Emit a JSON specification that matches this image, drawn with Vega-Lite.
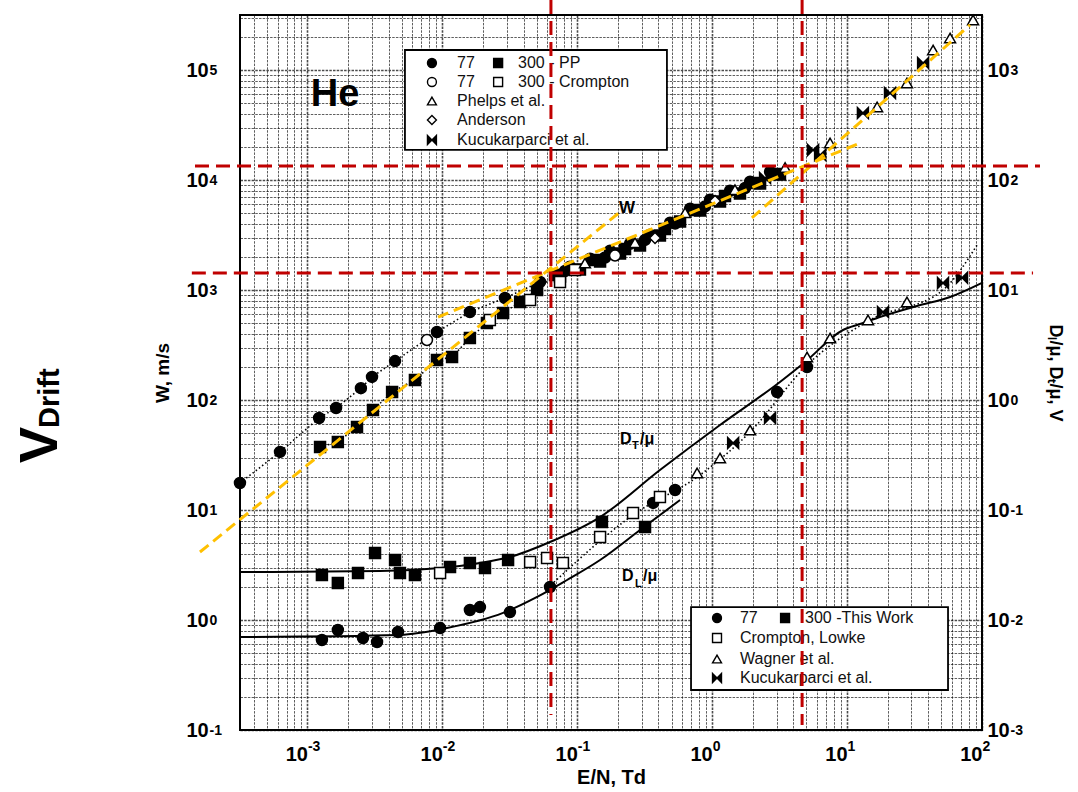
{
  "$schema": "https://vega.github.io/schema/vega-lite/v6.json",
  "width": 742,
  "height": 715,
  "autosize": {"type": "none"},
  "padding": {"left": 240, "top": 15, "right": 96, "bottom": 62},
  "background": "white",
  "config": {
    "view": {"stroke": "black", "strokeWidth": 2},
    "font": "Liberation Sans",
    "axis": {"domain": false, "ticks": false, "labelFont": "Liberation Sans", "labelFontWeight": "bold", "labelFontSize": 20, "labelColor": "black", "titleFont": "Liberation Sans", "titleFontWeight": "bold", "titleColor": "black", "labelOverlap": false, "labelBound": false, "labelFlush": false}
  },
  "datasets": {
    "wpts": [
      {"E": 0.000316, "W": 17.6, "s": "W77"}, {"E": 0.000626, "W": 33.7, "s": "W77"}, {"E": 0.00122, "W": 68.6, "s": "W77"}, {"E": 0.00163, "W": 84.6, "s": "W77"}, {"E": 0.00249, "W": 128, "s": "W77"}, {"E": 0.00301, "W": 162, "s": "W77"}, {"E": 0.00446, "W": 226, "s": "W77"}, {"E": 0.00912, "W": 415, "s": "W77"}, {"E": 0.016, "W": 631, "s": "W77"}, {"E": 0.0291, "W": 846, "s": "W77"}, {"E": 0.053, "W": 1183, "s": "W77"}, {"E": 0.0811, "W": 1489, "s": "W77"}, {"E": 0.1607, "W": 1975, "s": "W77"}, {"E": 0.318, "W": 2850, "s": "W77"}, {"E": 0.531, "W": 4025, "s": "W77"}, {"E": 0.885, "W": 5750, "s": "W77"}, {"E": 1.754, "W": 8457, "s": "W77"},
      {"E": 0.0883, "W": 1626, "s": "W77"}, {"E": 0.1245, "W": 1923, "s": "W77"}, {"E": 0.175, "W": 2274, "s": "W77"}, {"E": 0.246, "W": 2633, "s": "W77"}, {"E": 0.346, "W": 3178, "s": "W77"}, {"E": 0.4875, "W": 4086, "s": "W77"}, {"E": 0.6855, "W": 5475, "s": "W77"}, {"E": 0.964, "W": 6613, "s": "W77"}, {"E": 1.356, "W": 7986, "s": "W77"}, {"E": 1.91, "W": 9641, "s": "W77"}, {"E": 2.685, "W": 11880, "s": "W77"},
      {"E": 0.00124, "W": 37.4, "s": "W300"}, {"E": 0.00168, "W": 41.5, "s": "W300"}, {"E": 0.00233, "W": 56.8, "s": "W300"}, {"E": 0.00306, "W": 81.1, "s": "W300"}, {"E": 0.00424, "W": 118, "s": "W300"}, {"E": 0.00626, "W": 152, "s": "W300"}, {"E": 0.00912, "W": 231, "s": "W300"}, {"E": 0.0118, "W": 246, "s": "W300"}, {"E": 0.016, "W": 366, "s": "W300"}, {"E": 0.0214, "W": 501, "s": "W300"}, {"E": 0.0282, "W": 618, "s": "W300"}, {"E": 0.0377, "W": 778, "s": "W300"}, {"E": 0.0504, "W": 1000, "s": "W300"}, {"E": 0.0684, "W": 1368, "s": "W300"}, {"E": 0.1355, "W": 1874, "s": "W300"}, {"E": 0.226, "W": 2360, "s": "W300"}, {"E": 0.447, "W": 3587, "s": "W300"}, {"E": 0.746, "W": 5337, "s": "W300"}, {"E": 1.245, "W": 7161, "s": "W300"}, {"E": 2.08, "W": 9391, "s": "W300"}, {"E": 2.924, "W": 11350, "s": "W300"},
      {"E": 0.0745, "W": 1327, "s": "W300"}, {"E": 0.1047, "W": 1536, "s": "W300"}, {"E": 0.1476, "W": 1817, "s": "W300"}, {"E": 0.2075, "W": 2149, "s": "W300"}, {"E": 0.2917, "W": 2540, "s": "W300"}, {"E": 0.41, "W": 3129, "s": "W300"}, {"E": 0.578, "W": 4199, "s": "W300"}, {"E": 0.813, "W": 5288, "s": "W300"}, {"E": 1.143, "W": 6376, "s": "W300"}, {"E": 1.607, "W": 7542, "s": "W300"}, {"E": 2.265, "W": 9300, "s": "W300"}, {"E": 3.18, "W": 11225, "s": "W300"},
      {"E": 0.00769, "W": 351, "s": "W77C"}, {"E": 0.1905, "W": 2060, "s": "W77C"},
      {"E": 0.0225, "W": 534, "s": "W300C"}, {"E": 0.0447, "W": 811, "s": "W300C"}, {"E": 0.0745, "W": 1180, "s": "W300C"}, {"E": 0.0962, "W": 1520, "s": "W300C"},
      {"E": 0.114, "W": 1755, "s": "Phelps"}, {"E": 0.268, "W": 2690, "s": "Phelps"}, {"E": 0.63, "W": 5050, "s": "Phelps"}, {"E": 1.476, "W": 8170, "s": "Phelps"}, {"E": 3.47, "W": 12970, "s": "Phelps"}, {"E": 7.48, "W": 21700, "s": "Phelps"}, {"E": 16.7, "W": 46100, "s": "Phelps"}, {"E": 27.8, "W": 76200, "s": "Phelps"}, {"E": 43.4, "W": 152000, "s": "Phelps"}, {"E": 58, "W": 195400, "s": "Phelps"}, {"E": 85.9, "W": 285000, "s": "Phelps"},
      {"E": 0.377, "W": 2970, "s": "Anderson"}, {"E": 1.05, "W": 6442, "s": "Anderson"},
      {"E": 2.466, "W": 10430, "s": "Kuc"}, {"E": 5.6, "W": 18750, "s": "Kuc"}, {"E": 6.31, "W": 16870, "s": "Kuc"}, {"E": 13.1, "W": 40650, "s": "Kuc"}, {"E": 20.8, "W": 61800, "s": "Kuc"}, {"E": 36.6, "W": 115800, "s": "Kuc"}
    ],
    "dpts": [
      {"E": 0.00128, "V": 0.00658, "s": "DL77"}, {"E": 0.00168, "V": 0.00811, "s": "DL77"}, {"E": 0.00258, "V": 0.00686, "s": "DL77"}, {"E": 0.00328, "V": 0.00631, "s": "DL77"}, {"E": 0.00469, "V": 0.00778, "s": "DL77"}, {"E": 0.00962, "V": 0.00845, "s": "DL77"}, {"E": 0.016, "V": 0.01233, "s": "DL77"}, {"E": 0.019, "V": 0.0131, "s": "DL77"}, {"E": 0.0317, "V": 0.0118, "s": "DL77"}, {"E": 0.0628, "V": 0.01995, "s": "DL77"}, {"E": 0.365, "V": 0.116, "s": "DL77"}, {"E": 0.531, "V": 0.152, "s": "DL77"}, {"E": 3.03, "V": 1.18, "s": "DL77"}, {"E": 5.05, "V": 1.995, "s": "DL77"},
      {"E": 0.00128, "V": 0.0257, "s": "DT300"}, {"E": 0.00168, "V": 0.0217, "s": "DT300"}, {"E": 0.00237, "V": 0.0267, "s": "DT300"}, {"E": 0.00317, "V": 0.0407, "s": "DT300"}, {"E": 0.00446, "V": 0.0351, "s": "DT300"}, {"E": 0.00485, "V": 0.0267, "s": "DT300"}, {"E": 0.00626, "V": 0.0257, "s": "DT300"}, {"E": 0.0114, "V": 0.0303, "s": "DT300"}, {"E": 0.016, "V": 0.033, "s": "DT300"}, {"E": 0.0207, "V": 0.0297, "s": "DT300"}, {"E": 0.0307, "V": 0.0351, "s": "DT300"}, {"E": 0.1524, "V": 0.0778, "s": "DT300"}, {"E": 0.318, "V": 0.07, "s": "DT300"},
      {"E": 0.00962, "V": 0.0267, "s": "CL"}, {"E": 0.0447, "V": 0.0337, "s": "CL"}, {"E": 0.0597, "V": 0.0366, "s": "CL"}, {"E": 0.0783, "V": 0.033, "s": "CL"}, {"E": 0.1476, "V": 0.0568, "s": "CL"}, {"E": 0.259, "V": 0.094, "s": "CL"}, {"E": 0.41, "V": 0.131, "s": "CL"},
      {"E": 0.773, "V": 0.217, "s": "Wagner"}, {"E": 1.143, "V": 0.297, "s": "Wagner"}, {"E": 1.91, "V": 0.533, "s": "Wagner"}, {"E": 5.05, "V": 2.46, "s": "Wagner"}, {"E": 7.48, "V": 3.66, "s": "Wagner"}, {"E": 14.3, "V": 5.34, "s": "Wagner"}, {"E": 27.8, "V": 7.78, "s": "Wagner"},
      {"E": 1.43, "V": 0.406, "s": "KucL"}, {"E": 2.685, "V": 0.686, "s": "KucL"}, {"E": 18.46, "V": 6.31, "s": "KucL"}, {"E": 51.4, "V": 11.6, "s": "KucL"}, {"E": 71.1, "V": 12.9, "s": "KucL"}
    ],
    "theory": [
      {"E": 0.000316, "V": 0.0273, "c": "DT"}, {"E": 0.00345, "V": 0.0279, "c": "DT"}, {"E": 0.00962, "V": 0.0297, "c": "DT"}, {"E": 0.019, "V": 0.033, "c": "DT"}, {"E": 0.0317, "V": 0.0374, "c": "DT"}, {"E": 0.0628, "V": 0.0512, "c": "DT"}, {"E": 0.1476, "V": 0.0863, "c": "DT"}, {"E": 0.41, "V": 0.231, "c": "DT"}, {"E": 1.143, "V": 0.593, "c": "DT"}, {"E": 3.18, "V": 1.458, "c": "DT"}, {"E": 4.88, "V": 2.215, "c": "DT"}, {"E": 9.33, "V": 4.33, "c": "DT"}, {"E": 12.47, "V": 4.91, "c": "DT"}, {"E": 18.46, "V": 5.8, "c": "DT"}, {"E": 33, "V": 7.16, "c": "DT"}, {"E": 58, "V": 8.63, "c": "DT"}, {"E": 100, "V": 11.6, "c": "DT"},
      {"E": 0.000316, "V": 0.007, "c": "DL"}, {"E": 0.00485, "V": 0.00731, "c": "DL"}, {"E": 0.0108, "V": 0.00845, "c": "DL"}, {"E": 0.0282, "V": 0.0116, "c": "DL"}, {"E": 0.0504, "V": 0.0162, "c": "DL"}, {"E": 0.084, "V": 0.0231, "c": "DL"}, {"E": 0.1476, "V": 0.0351, "c": "DL"}, {"E": 0.2917, "V": 0.0658, "c": "DL"}, {"E": 0.578, "V": 0.1233, "c": "DL"}
    ],
    "dldot": [
      {"E": 0.0638, "V": 0.0208}, {"E": 0.259, "V": 0.0901}, {"E": 0.813, "V": 0.208}, {"E": 1.91, "V": 0.512}, {"E": 5.05, "V": 2.08}, {"E": 14.8, "V": 5.34}, {"E": 51.4, "V": 10}, {"E": 91.9, "V": 25.6}
    ],
    "yellow": [
      {"E": 0.0001597, "W": 4.15, "g": "A"}, {"E": 0.2075, "W": 5117, "g": "A"},
      {"E": 0.00929, "W": 568, "g": "B"}, {"E": 12.47, "W": 21700, "g": "B"},
      {"E": 1.97, "W": 4515, "g": "C"}, {"E": 81.5, "W": 256600, "g": "C"}
    ],
    "redh": [{"E": 0.0001467, "E2": 269, "W": 13400}, {"E": 0.000139, "E2": 239, "W": 1427}],
    "redv": [{"E": 0.0638, "W": 432000, "W2": 0.137}, {"E": 4.64, "W": 432000, "W2": 0.111}],
    "ubox": [{"E": 0.00528, "E2": 0.462, "W": 152000, "W2": 18750}],
    "usym": [
      {"E": 0.00837, "W": 115800, "s": "W77"}, {"E": 0.0259, "W": 115800, "s": "W300"}, {"E": 0.00837, "W": 77800, "s": "W77C"}, {"E": 0.0259, "W": 77800, "s": "W300C"}, {"E": 0.00837, "W": 52250, "s": "Phelps"}, {"E": 0.00837, "W": 35100, "s": "Anderson"}, {"E": 0.00837, "W": 23100, "s": "Kuc"}
    ],
    "utext": [
      {"E": 0.01285, "W": 115800, "t": "77"}, {"E": 0.0364, "W": 115800, "t": "300 - PP"}, {"E": 0.01285, "W": 77800, "t": "77"}, {"E": 0.0364, "W": 77800, "t": "300 - Crompton"}, {"E": 0.01285, "W": 52250, "t": "Phelps et al."}, {"E": 0.01285, "W": 35100, "t": "Anderson"}, {"E": 0.01285, "W": 23100, "t": "Kucukarparci et al."}
    ],
    "lbox": [{"E": 0.697, "E2": 56, "V": 0.0131, "V2": 0.00231}],
    "lsym": [
      {"E": 1.086, "V": 0.01043, "s": "DL77"}, {"E": 3.47, "V": 0.01043, "s": "DT300"}, {"E": 1.086, "V": 0.00686, "s": "CL"}, {"E": 1.086, "V": 0.00442, "s": "Wagner"}, {"E": 1.086, "V": 0.00297, "s": "KucL"}
    ],
    "ltext": [
      {"E": 1.607, "V": 0.01043, "t": "77"}, {"E": 4.88, "V": 0.01043, "t": "300 -This Work"}, {"E": 1.607, "V": 0.00686, "t": "Crompton, Lowke"}, {"E": 1.607, "V": 0.00442, "t": "Wagner et al."}, {"E": 1.607, "V": 0.00297, "t": "Kucukarparci et al."}
    ],
    "dlab": [
      {"E": 0.2075, "V": 0.4416, "t": "D"}, {"E": 0.2917, "V": 0.4416, "t": "/μ"},
      {"E": 0.2148, "V": 0.0251, "t": "D"}, {"E": 0.307, "V": 0.0251, "t": "/μ"}
    ],
    "dsub": [{"E": 0.2547, "V": 0.382, "t": "T"}, {"E": 0.268, "V": 0.0212, "t": "L"}]
  },
  "layer": [
    {
      "encoding": {
        "x": {
          "field": "E", "type": "quantitative",
          "scale": {"type": "log", "domain": [0.00031623, 100], "nice": false},
          "axis": {
            "orient": "bottom",
            "values": [0.0004, 0.0005, 0.0006, 0.0007, 0.0008, 0.0009, 0.001, 0.002, 0.003, 0.004, 0.005, 0.006, 0.007, 0.008, 0.009, 0.01, 0.02, 0.03, 0.04, 0.05, 0.06, 0.07, 0.08, 0.09, 0.1, 0.2, 0.3, 0.4, 0.5, 0.6, 0.7, 0.8, 0.9, 1, 2, 3, 4, 5, 6, 7, 8, 9, 10, 20, 30, 40, 50, 60, 70, 80, 90, 100],
            "labelExpr": "indexof([0.001,0.01,0.1,1,10,100], datum.value) >= 0 ? '10' : ''",
            "labelAlign": "right", "labelDx": 10, "labelPadding": 14,
            "grid": true, "gridColor": "black", "gridOpacity": 0.7, "gridDash": [2.5, 1.2],
            "gridWidth": {"condition": {"test": "indexof([0.001,0.01,0.1,1,10,100], datum.value) >= 0", "value": 1.6}, "value": 0.9},
            "title": "E/N,  Td", "titleFontSize": 20, "titlePadding": 3
          }
        },
        "y": {
          "field": "W", "type": "quantitative",
          "scale": {"type": "log", "domain": [0.1, 316227.77], "nice": false},
          "axis": {
            "orient": "left",
            "values": [0.1, 0.2, 0.3, 0.4, 0.5, 0.6, 0.7, 0.8, 0.9, 1, 2, 3, 4, 5, 6, 7, 8, 9, 10, 20, 30, 40, 50, 60, 70, 80, 90, 100, 200, 300, 400, 500, 600, 700, 800, 900, 1000, 2000, 3000, 4000, 5000, 6000, 7000, 8000, 9000, 10000, 20000, 30000, 40000, 50000, 60000, 70000, 80000, 90000, 100000, 200000, 300000],
            "labelExpr": "indexof([0.1,1,10,100,1000,10000,100000], datum.value) >= 0 ? '10' : ''",
            "labelAlign": "left", "labelPadding": 54, "labelBaseline": "middle",
            "grid": true, "gridColor": "black", "gridOpacity": 0.7, "gridDash": [2.5, 1.2],
            "gridWidth": {"condition": {"test": "indexof([0.1,1,10,100,1000,10000,100000], datum.value) >= 0", "value": 1.6}, "value": 0.9},
            "title": "W, m/s", "titleFontSize": 19, "titlePadding": 14
          }
        }
      },
      "layer": [
        {
          "data": {"name": "wpts"},
          "transform": [{"filter": "(datum.s === 'W77' || datum.s === 'W300') && datum.E < 0.07"}],
          "mark": {"type": "line", "strokeDash": [1.5, 2.5], "strokeWidth": 1.6, "color": "black"},
          "encoding": {"detail": {"field": "s"}}
        },
        {
          "data": {"name": "wpts"},
          "mark": {"type": "point", "filled": true, "stroke": "black", "strokeWidth": 1.5, "size": 120, "opacity": 1},
          "encoding": {
            "shape": {"field": "s", "type": "nominal", "legend": null, "scale": {"domain": ["W77", "W300", "W77C", "W300C", "Phelps", "Anderson", "Kuc", "DL77", "DT300", "CL", "Wagner", "KucL"], "range": ["circle", "square", "circle", "square", "triangle-up", "diamond", "M-1,-1L0,0L-1,1ZM1,-1L0,0L1,1Z", "circle", "square", "square", "triangle-up", "M-1,-1L0,0L-1,1ZM1,-1L0,0L1,1Z"]}},
            "fill": {"field": "s", "type": "nominal", "legend": null, "scale": {"domain": ["W77", "W300", "W77C", "W300C", "Phelps", "Anderson", "Kuc", "DL77", "DT300", "CL", "Wagner", "KucL"], "range": ["black", "black", "white", "white", "white", "white", "black", "black", "black", "white", "white", "black"]}}
          }
        },
        {
          "data": {"name": "ubox"},
          "mark": {"type": "rect", "fill": "white", "stroke": "black", "strokeWidth": 1.8},
          "encoding": {"x2": {"field": "E2"}, "y2": {"field": "W2"}}
        },
        {
          "data": {"name": "usym"},
          "mark": {"type": "point", "filled": true, "stroke": "black", "strokeWidth": 1.4, "size": 80, "opacity": 1},
          "encoding": {
            "shape": {"field": "s", "type": "nominal", "legend": null},
            "fill": {"field": "s", "type": "nominal", "legend": null}
          }
        },
        {
          "data": {"name": "utext"},
          "mark": {"type": "text", "align": "left", "baseline": "middle", "fontSize": 16, "color": "#111"},
          "encoding": {"text": {"field": "t"}}
        },
        {
          "data": {"values": [{"E": 0.0016, "W": 59300, "t": "He"}]},
          "mark": {"type": "text", "align": "center", "baseline": "middle", "fontSize": 38, "fontWeight": "bold", "color": "black"},
          "encoding": {"text": {"field": "t"}}
        },
        {
          "data": {"values": [{"E": 0.234, "W": 5560, "t": "W"}]},
          "mark": {"type": "text", "align": "center", "baseline": "middle", "fontSize": 17, "fontWeight": "bold", "color": "black"},
          "encoding": {"text": {"field": "t"}}
        },
        {
          "data": {"values": [{"E": 0.0000139, "W": 39, "t": "V"}]},
          "mark": {"type": "text", "angle": 270, "align": "center", "baseline": "alphabetic", "fontSize": 54, "fontWeight": "bold", "color": "black"},
          "encoding": {"text": {"field": "t"}}
        },
        {
          "data": {"values": [{"E": 0.0000145, "W": 104, "t": "Drift"}]},
          "mark": {"type": "text", "angle": 270, "align": "center", "baseline": "alphabetic", "fontSize": 29, "fontWeight": "bold", "color": "black"},
          "encoding": {"text": {"field": "t"}}
        }
      ]
    },
    {
      "encoding": {
        "x": {
          "field": "E", "type": "quantitative",
          "scale": {"type": "log", "domain": [0.00031623, 100], "nice": false},
          "axis": {
            "orient": "bottom",
            "values": [0.001, 0.01, 0.1, 1, 10, 100],
            "labelExpr": "datum.value===0.001?'-3':datum.value===0.01?'-2':datum.value===0.1?'-1':datum.value===1?'0':datum.value===10?'1':'2'",
            "labelAlign": "left", "labelDx": 11, "labelPadding": 9, "labelFontSize": 14,
            "grid": false, "title": null
          }
        },
        "y": {
          "field": "V", "type": "quantitative",
          "scale": {"type": "log", "domain": [0.001, 3162.2777], "nice": false},
          "axis": {
            "orient": "right",
            "values": [0.001, 0.01, 0.1, 1, 10, 100, 1000],
            "labelExpr": "'10'",
            "labelAlign": "left", "labelPadding": 5, "labelBaseline": "middle",
            "grid": false,
            "title": "Dₗ/μ, Dₜ/μ, V", "titleFontSize": 18, "titlePadding": 36
          }
        }
      },
      "layer": [
        {
          "data": {"name": "theory"},
          "mark": {"type": "line", "strokeWidth": 2, "color": "black", "interpolate": "monotone"},
          "encoding": {"detail": {"field": "c"}}
        },
        {
          "data": {"name": "dldot"},
          "mark": {"type": "line", "strokeWidth": 1.6, "strokeDash": [1.5, 2.5], "color": "black", "interpolate": "monotone"},
          "encoding": {}
        },
        {
          "data": {"name": "dpts"},
          "mark": {"type": "point", "filled": true, "stroke": "black", "strokeWidth": 1.5, "size": 120, "opacity": 1},
          "encoding": {
            "shape": {"field": "s", "type": "nominal", "legend": null},
            "fill": {"field": "s", "type": "nominal", "legend": null}
          }
        },
        {
          "data": {"name": "lbox"},
          "mark": {"type": "rect", "fill": "white", "stroke": "black", "strokeWidth": 1.8},
          "encoding": {"x2": {"field": "E2"}, "y2": {"field": "V2"}}
        },
        {
          "data": {"name": "lsym"},
          "mark": {"type": "point", "filled": true, "stroke": "black", "strokeWidth": 1.4, "size": 80, "opacity": 1},
          "encoding": {
            "shape": {"field": "s", "type": "nominal", "legend": null},
            "fill": {"field": "s", "type": "nominal", "legend": null}
          }
        },
        {
          "data": {"name": "dlab"},
          "mark": {"type": "text", "align": "left", "baseline": "middle", "fontSize": 16, "fontWeight": "bold", "color": "black"},
          "encoding": {"text": {"field": "t"}}
        },
        {
          "data": {"name": "dsub"},
          "mark": {"type": "text", "align": "left", "baseline": "middle", "fontSize": 11, "fontWeight": "bold", "color": "black"},
          "encoding": {"text": {"field": "t"}}
        }
      ]
    },
    {
      "encoding": {
        "x": {"field": "E", "type": "quantitative", "scale": {"type": "log", "domain": [0.00031623, 100], "nice": false}, "axis": null},
        "y": {
          "field": "V", "type": "quantitative",
          "scale": {"type": "log", "domain": [0.001, 3162.2777], "nice": false},
          "axis": {
            "orient": "right",
            "values": [0.001, 0.01, 0.1, 1, 10, 100, 1000],
            "labelExpr": "datum.value===0.001?'-3':datum.value===0.01?'-2':datum.value===0.1?'-1':datum.value===1?'0':datum.value===10?'1':datum.value===100?'2':'3'",
            "labelAlign": "left", "labelPadding": 28, "labelDy": -7, "labelFontSize": 14, "labelBaseline": "middle",
            "grid": false, "title": null
          }
        }
      },
      "layer": [
        {
          "data": {"name": "ltext"},
          "mark": {"type": "text", "align": "left", "baseline": "middle", "fontSize": 16, "color": "#111"},
          "encoding": {"text": {"field": "t"}}
        }
      ]
    },
    {
      "encoding": {
        "x": {"field": "E", "type": "quantitative", "scale": {"type": "log", "domain": [0.00031623, 100], "nice": false}, "axis": null},
        "y": {
          "field": "W", "type": "quantitative",
          "scale": {"type": "log", "domain": [0.1, 316227.77], "nice": false},
          "axis": {
            "orient": "left",
            "values": [0.1, 1, 10, 100, 1000, 10000, 100000],
            "labelExpr": "datum.value===0.1?'-1':datum.value===1?'0':datum.value===10?'1':datum.value===100?'2':datum.value===1000?'3':datum.value===10000?'4':'5'",
            "labelAlign": "left", "labelPadding": 31, "labelDy": -7, "labelFontSize": 14, "labelBaseline": "middle",
            "grid": false, "title": null
          }
        }
      },
      "layer": [
        {
          "data": {"name": "yellow"},
          "mark": {"type": "line", "color": "#FFC000", "strokeWidth": 3, "strokeDash": [11, 6]},
          "encoding": {"detail": {"field": "g"}}
        },
        {
          "data": {"name": "redh"},
          "mark": {"type": "rule", "color": "#C00000", "strokeWidth": 3, "strokeDash": [14, 7]},
          "encoding": {"x2": {"field": "E2"}}
        },
        {
          "data": {"name": "redv"},
          "mark": {"type": "rule", "color": "#C00000", "strokeWidth": 3, "strokeDash": [14, 7]},
          "encoding": {"y2": {"field": "W2"}}
        }
      ]
    }
  ],
  "resolve": {"scale": {"y": "independent"}, "axis": {"x": "independent", "y": "independent"}}
}
